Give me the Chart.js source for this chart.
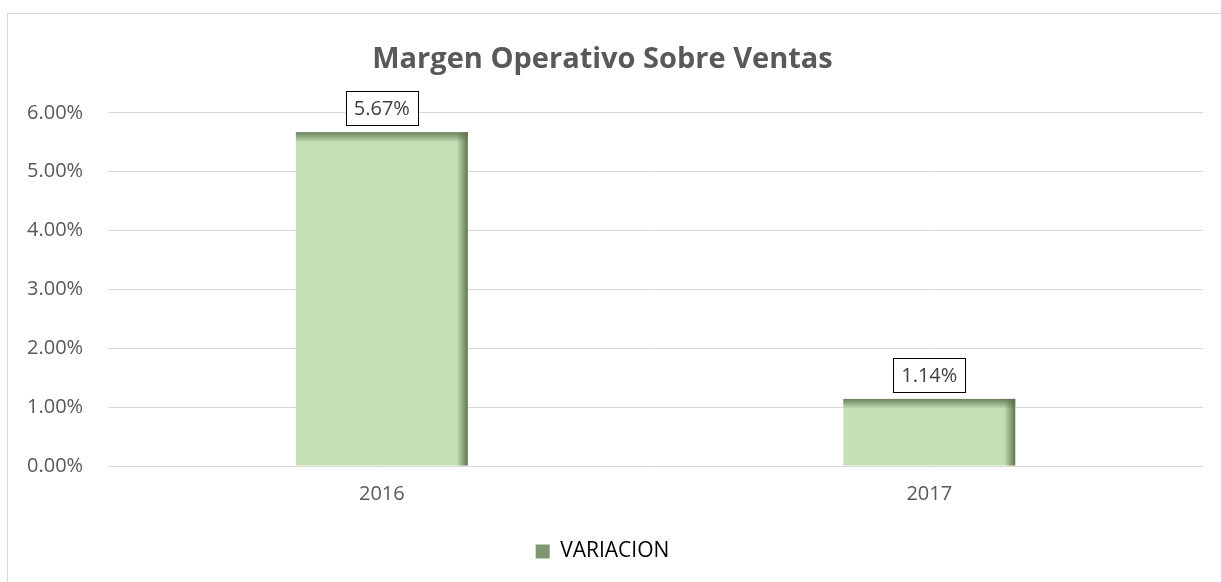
<!DOCTYPE html>
<html>
<head>
<meta charset="utf-8">
<script src="https://cdn.jsdelivr.net/npm/chart.js@4.4.0/dist/chart.umd.min.js"></script>
<style>
  html, body { margin: 0; padding: 0; background: #fff; }
  #wrap { position: relative; width: 1221px; height: 582px; overflow: hidden; }
  #frame { position: absolute; left: 7px; top: 13px; width: 1240px; height: 600px; border: 1px solid #d9d9d9; }
  canvas { position: absolute; left: 0; top: 0; }
</style>
</head>
<body>
<div id="wrap">
  <div id="frame"></div>
  <canvas id="barChart" width="1221" height="582"></canvas>
</div>
<script>
// values
const years = ['2016', '2017'];
const variacion = [5.67, 1.14];
const seriesName = 'VARIACION';
const chartTitle = 'Margen Operativo Sobre Ventas';

const FONT = "'Open Sans', 'Noto Sans', sans-serif";

// shaded edges on the bars (top and right side darker)
const barShade = {
  id: 'barShade',
  afterDatasetsDraw(chart) {
    const ctx = chart.ctx;
    chart.getDatasetMeta(0).data.forEach(bar => {
      const left = bar.x - bar.width / 2;
      const right = bar.x + bar.width / 2;
      const top = bar.y;
      const bottom = bar.base;
      ctx.save();
      let g = ctx.createLinearGradient(0, top, 0, top + 10);
      g.addColorStop(0, 'rgba(90,110,75,0.85)');
      g.addColorStop(1, 'rgba(90,110,75,0)');
      ctx.fillStyle = g;
      ctx.fillRect(left, top, bar.width, 10);
      g = ctx.createLinearGradient(right - 11, 0, right, 0);
      g.addColorStop(0, 'rgba(90,110,75,0)');
      g.addColorStop(1, 'rgba(90,110,75,0.95)');
      ctx.fillStyle = g;
      ctx.fillRect(right - 11, top, 11, bottom - top);
      ctx.restore();
    });
  }
};

// boxed value labels above the bars
const valueLabels = {
  id: 'valueLabels',
  afterDatasetsDraw(chart) {
    const ctx = chart.ctx;
    const ds = chart.data.datasets[0];
    chart.getDatasetMeta(0).data.forEach((bar, i) => {
      const txt = ds.data[i].toFixed(2) + '%';
      ctx.save();
      ctx.font = '20px ' + FONT;
      const w = ctx.measureText(txt).width + 16;
      const h = 34;
      const x = bar.x - w / 2;
      const y = bar.y - 7 - h;
      ctx.fillStyle = '#fff';
      ctx.fillRect(x, y, w, h);
      ctx.strokeStyle = '#000';
      ctx.lineWidth = 1;
      ctx.strokeRect(Math.round(x) + 0.5, Math.round(y) + 0.5, Math.round(w), h);
      ctx.fillStyle = '#404040';
      ctx.textAlign = 'center';
      ctx.textBaseline = 'middle';
      ctx.fillText(txt, bar.x, y + h / 2 + 1);
      ctx.restore();
    });
  }
};

new Chart(document.getElementById('barChart'), {
  type: 'bar',
  data: {
    labels: years,
    datasets: [{
      label: seriesName,
      data: variacion,
      backgroundColor: '#c5e0b4',
      borderWidth: 0,
      categoryPercentage: 1,
      barPercentage: 0.314
    }]
  },
  options: {
    responsive: false,
    animation: false,
    layout: { padding: { left: 2, right: 18, top: 42, bottom: 10 } },
    scales: {
      x: {
        grid: { display: false },
        border: { display: false },
        ticks: { color: '#595959', font: { family: FONT, size: 20 }, padding: 8 },
        afterFit(scale) { scale.height += 15; }
      },
      y: {
        min: 0,
        max: 6,
        ticks: {
          stepSize: 1,
          color: '#595959',
          font: { family: FONT, size: 20 },
          padding: 25,
          callback: v => v.toFixed(2) + '%'
        },
        grid: { color: '#d9d9d9', lineWidth: 1, drawTicks: false },
        border: { display: false }
      }
    },
    plugins: {
      title: {
        display: true,
        text: chartTitle,
        color: '#595959',
        font: { family: FONT, size: 29, weight: 'bold' },
        padding: { top: 0, bottom: 36 }
      },
      legend: {
        position: 'bottom',
        labels: {
          color: '#595959',
          font: { family: FONT, size: 21 },
          boxWidth: 14,
          boxHeight: 14,
          padding: 12,
          generateLabels: chart => [{
            text: seriesName,
            fillStyle: '#7d9870',
            strokeStyle: '#7d9870',
            lineWidth: 0,
            datasetIndex: 0
          }]
        }
      },
      tooltip: { enabled: false }
    }
  },
  plugins: [barShade, valueLabels]
});
</script>
</body>
</html>
